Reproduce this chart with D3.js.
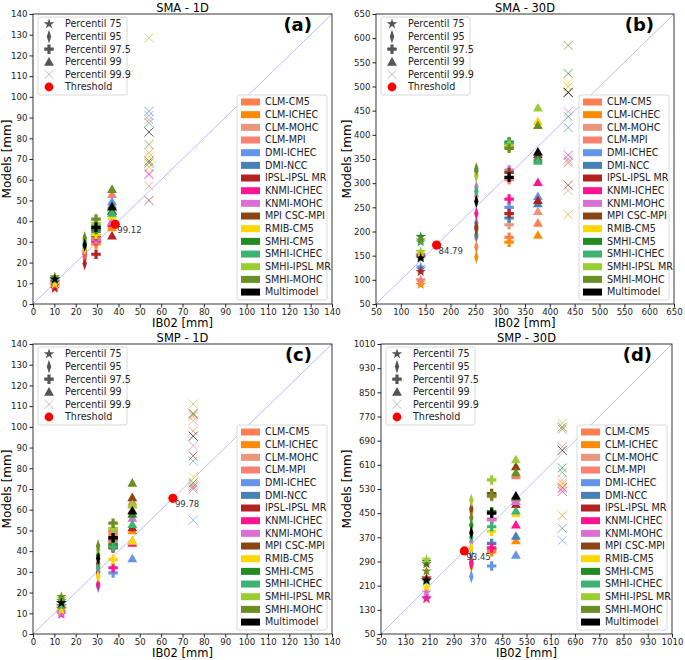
<!DOCTYPE html>
<html>
<head>
<meta charset="utf-8">
<script src="https://cdn.jsdelivr.net/npm/d3@7"></script>
<style>
  body { margin: 0; background: #fff; }
  text { font-family: "DejaVu Sans", sans-serif; }
</style>
</head>
<body>
<script>
// models / colours shared by all four panels
var models = ["CLM-CM5", "CLM-ICHEC", "CLM-MOHC", "CLM-MPI", "DMI-ICHEC", "DMI-NCC",
  "IPSL-IPSL MR", "KNMI-ICHEC", "KNMI-MOHC", "MPI CSC-MPI", "RMIB-CM5", "SMHI-CM5",
  "SMHI-ICHEC", "SMHI-IPSL MR", "SMHI-MOHC", "Multimodel"];
var modelColors = ["#FF7F50", "#FF8C00", "#E9967A", "#FA8072", "#6495ED", "#4682B4",
  "#B22222", "#FF1493", "#DA70D6", "#8B4513", "#FFD700", "#228B22",
  "#3CB371", "#9ACD32", "#6B8E23", "#000000"];
var percentiles = ["Percentil 75", "Percentil 95", "Percentil 97.5", "Percentil 99", "Percentil 99.9"];

// tick labels
var ticks1d = [0, 10, 20, 30, 40, 50, 60, 70, 80, 90, 100, 110, 120, 130, 140];
var ticksSma30 = [50, 100, 150, 200, 250, 300, 350, 400, 450, 500, 550, 600, 650];
var ticksSmp30 = [50, 130, 210, 290, 370, 450, 530, 610, 690, 770, 850, 930, 1010];

// SMA - 1D : observed (IB02) percentiles, model percentiles (one array per percentile, one value per model)
var sma1dObs = [10.2, 24.2, 29.5, 37, 54.3];
var sma1dP75 = [9, 8.5, 9.5, 10, 11, 10.5, 7.5, 9, 10, 10.5, 9.5, 12, 11.5, 12.5, 13, 12];
var sma1dP95 = [23, 22, 24, 25, 28, 27, 19.5, 24, 25, 26, 26.5, 29, 30, 31, 32, 28.5];
var sma1dP975 = [30, 29, 31, 32, 36, 35, 24, 30.5, 31, 33, 33.5, 36, 38, 39, 41, 37];
var sma1dP99 = [38, 37, 40, 53, 49.5, 48, 33, 39, 40, 45, 42.5, 45, 44, 47, 55.5, 47];
var sma1dP999 = [73, 66, 57, 89, 91, 93, 50, 62.5, 63, 69, 71, 68, 87.5, 128.5, 77, 83];
var sma1dThreshold = [38.5, "99.12"];

// SMA - 30D
var sma30dObs = [140, 252, 318, 376, 437];
var sma30dP75 = [95, 90, 98, 100, 126, 122, 117, 150, 152, 148, 155, 189, 178, 158, 182, 145];
var sma30dP95 = [168, 147, 188, 273, 218, 193, 210, 237, 292, 205, 318, 325, 283, 315, 330, 262];
var sma30dP975 = [188, 178, 214, 307, 250, 228, 237, 267, 327, 322, 375, 385, 382, 378, 372, 312];
var sma30dP99 = [218, 193, 242, 355, 273, 258, 265, 302, 355, 360, 428, 350, 346, 456, 420, 365];
var sma30dP999 = [345, 235, 285, 342, 350, 415, 296, 358, 448, 487, 508, 527, 438, 500, 585, 488];
var sma30dThreshold = [172, "84.79"];

// SMP - 1D
var smp1dObs = [13.3, 30.5, 37.5, 46.5, 75];
var smp1dP75 = [12, 11, 12.5, 13, 10.5, 13.5, 12, 9.5, 10, 15, 11.5, 16, 13.5, 17, 18, 15];
var smp1dP95 = [31, 28, 32, 33, 23, 30, 30, 24, 31, 34, 28, 38, 32.5, 40.5, 42.5, 36.5];
var smp1dP975 = [48, 44, 49.5, 50, 29.5, 42, 41.5, 32, 45, 46, 36, 43, 42, 51, 53.5, 46.5];
var smp1dP99 = [60, 50, 63, 64, 36.5, 45, 51.5, 44, 56, 66, 45, 58, 53, 62.5, 73, 59.5];
var smp1dP999 = [98, 72, 103, 105, 55, 70, 86, 71, 91, 106.5, 76, 73, 83.5, 111, 106, 95.5];
var smp1dThreshold = [65.5, "99.78"];

// SMP - 30D
var smp30dObs = [200, 348, 415, 495, 648];
var smp30dP75 = [230, 235, 165, 232, 170, 228, 235, 168, 188, 282, 205, 290, 225, 297, 258, 228];
var smp30dP95 = [290, 275, 300, 455, 240, 315, 285, 283, 355, 465, 335, 410, 370, 493, 435, 385];
var smp30dP975 = [330, 322, 510, 505, 275, 350, 430, 335, 428, 515, 390, 455, 405, 560, 508, 450];
var smp30dP99 = [500, 360, 580, 575, 312, 375, 480, 412, 490, 605, 450, 505, 458, 628, 585, 508];
var smp30dP999 = [550, 442, 560, 670, 360, 400, 535, 522, 530, 735, 545, 600, 585, 748, 728, 658];
var smp30dThreshold = [325, "93.45"];

var panels = [
  {title: "SMA - 1D", tag: "(a)", ox: 0, oy: 0, left: 33, right: 332, domain: [0, 140], ticks: ticks1d,
    obs: sma1dObs, vals: [sma1dP75, sma1dP95, sma1dP975, sma1dP99, sma1dP999], thr: sma1dThreshold},
  {title: "SMA - 30D", tag: "(b)", ox: 340, oy: 0, left: 36, right: 334, domain: [50, 650], ticks: ticksSma30,
    obs: sma30dObs, vals: [sma30dP75, sma30dP95, sma30dP975, sma30dP99, sma30dP999], thr: sma30dThreshold},
  {title: "SMP - 1D", tag: "(c)", ox: 0, oy: 330, left: 33, right: 332, domain: [0, 140], ticks: ticks1d,
    obs: smp1dObs, vals: [smp1dP75, smp1dP95, smp1dP975, smp1dP99, smp1dP999], thr: smp1dThreshold},
  {title: "SMP - 30D", tag: "(d)", ox: 340, oy: 330, left: 41, right: 332, domain: [50, 1010], ticks: ticksSmp30,
    obs: smp30dObs, vals: [smp30dP75, smp30dP95, smp30dP975, smp30dP99, smp30dP999], thr: smp30dThreshold}
];

var svg = d3.select("body").append("svg")
  .attr("width", 685)
  .attr("height", 660)
  .style("background", "#fff");

// marker path per percentile (star, thin diamond, filled plus, triangle, x)
function markerPath(k) {
  if (k == 0) return d3.symbol(d3.symbolStar, 34)();
  if (k == 1) return d3.symbol(d3.symbolDiamond, 34)();
  if (k == 2) return d3.symbol(d3.symbolCross, 50)();
  if (k == 3) return d3.symbol(d3.symbolTriangle, 42)();
  return d3.symbol(d3.symbolTimes, 55)();
}

function addMarker(sel, k, cx, cy, color) {
  var m = sel.append("path")
    .attr("d", markerPath(k));
  if (k == 1) {
    m.attr("transform", "translate(" + cx + "," + cy + ") scale(0.7,1.25)");
  } else if (k == 3) {
    m.attr("transform", "translate(" + cx + "," + (cy + 1) + ")");
  } else {
    m.attr("transform", "translate(" + cx + "," + cy + ")");
  }
  if (k == 4) {
    m.style("fill", "none").style("stroke", color).style("stroke-width", 1).style("opacity", 0.65);
  } else {
    m.style("fill", color);
  }
  return m;
}

panels.forEach(function(p) {
  var top = 14, bottom = 304;
  var g = svg.append("g").attr("transform", "translate(" + p.ox + "," + p.oy + ")");
  var x = d3.scaleLinear().domain(p.domain).range([p.left, p.right]);
  var y = d3.scaleLinear().domain(p.domain).range([bottom, top]);

  //1:1 line
  g.append("line")
    .attr("x1", x(p.domain[0])).attr("y1", y(p.domain[0]))
    .attr("x2", x(p.domain[1])).attr("y2", y(p.domain[1]))
    .style("stroke", "#b4b4ff")
    .style("stroke-width", 0.9);

  // model markers, one model at a time
  var pts = g.append("g").attr("class", "points");
  models.forEach(function(name, i) {
    p.vals.forEach(function(row, k) {
      addMarker(pts, k, x(p.obs[k]), y(row[i]), modelColors[i]);
    });
  });

  // threshold point
  g.append("circle")
    .attr("cx", x(p.thr[0]))
    .attr("cy", y(p.thr[0]))
    .attr("r", 4.6)
    .style("fill", "red");
  g.append("text")
    .attr("x", x(p.thr[0]) + 2)
    .attr("y", y(p.thr[0]) + 9)
    .style("font-size", "8.5px")
    .style("fill", "#333")
    .text(p.thr[1]);

  // axes
  var xAxis = d3.axisBottom(x).tickValues(p.ticks).tickFormat(d3.format("d"))
    .tickSize(3.5).tickPadding(1).tickSizeOuter(0);
  var yAxis = d3.axisLeft(y).tickValues(p.ticks).tickFormat(d3.format("d"))
    .tickSize(3.5).tickPadding(2).tickSizeOuter(0);
  var gx = g.append("g").attr("transform", "translate(0," + bottom + ")").call(xAxis);
  var gy = g.append("g").attr("transform", "translate(" + p.left + ",0)").call(yAxis);
  [gx, gy].forEach(function(a) {
    a.select(".domain").remove();
    a.selectAll("text").style("font-size", "8.6px").style("fill", "#222").style("font-family", "DejaVu Sans");
    a.selectAll("line").style("stroke", "#222");
  });

  // frame
  g.append("rect")
    .attr("x", p.left).attr("y", top)
    .attr("width", p.right - p.left).attr("height", bottom - top)
    .style("fill", "none").style("stroke", "#222").style("stroke-width", 0.9);

  // titles
  g.append("text")
    .attr("x", (p.left + p.right) / 2).attr("y", 11.5)
    .attr("text-anchor", "middle")
    .style("font-size", "11.5px")
    .text(p.title);
  g.append("text")
    .attr("x", (p.left + p.right) / 2).attr("y", 327.3)
    .attr("text-anchor", "middle")
    .style("font-size", "11.5px")
    .text("IB02 [mm]");
  g.append("text")
    .attr("transform", "translate(11," + ((top + bottom) / 2) + ") rotate(-90)")
    .attr("text-anchor", "middle")
    .style("font-size", "12px")
    .text("Models [mm]");
  g.append("text")
    .attr("x", p.right - 20).attr("y", 31)
    .attr("text-anchor", "end")
    .style("font-size", "18px")
    .style("font-weight", "bold")
    .text(p.tag);

  // marker legend
  var l1 = g.append("g").attr("transform", "translate(" + (p.left + 5) + ",17)");
  l1.append("rect")
    .attr("width", 89).attr("height", 78).attr("rx", 2)
    .style("fill", "#fff").style("fill-opacity", 0.85)
    .style("stroke", "#d0d0d0").style("stroke-width", 0.8);
  percentiles.forEach(function(lbl, k) {
    var ly = 7 + k * 12.6;
    addMarker(l1, k, 11, ly, k == 4 ? "#999" : "#555");
    l1.append("text").attr("x", 27).attr("y", ly + 3.4)
      .style("font-size", "9.6px").style("fill", "#222").text(lbl);
  });
  l1.append("circle").attr("cx", 11).attr("cy", 7 + 5 * 12.6).attr("r", 4.4).style("fill", "red");
  l1.append("text").attr("x", 27).attr("y", 7 + 5 * 12.6 + 3.4)
    .style("font-size", "9.6px").style("fill", "#222").text("Threshold");

  // model colour legend
  var l2 = g.append("g").attr("transform", "translate(" + (p.right - 95) + ",95)");
  l2.append("rect")
    .attr("width", 90).attr("height", 205).attr("rx", 2)
    .style("fill", "#fff").style("fill-opacity", 0.85)
    .style("stroke", "#d0d0d0").style("stroke-width", 0.8);
  models.forEach(function(name, i) {
    var ly = 7 + i * 12.67;
    l2.append("rect").attr("x", 4).attr("y", ly - 3.5).attr("width", 19).attr("height", 7)
      .style("fill", modelColors[i]);
    l2.append("text").attr("x", 28).attr("y", ly + 3.4)
      .style("font-size", "9.6px").style("fill", "#222").text(name);
  });
});
</script>
</body>
</html>
